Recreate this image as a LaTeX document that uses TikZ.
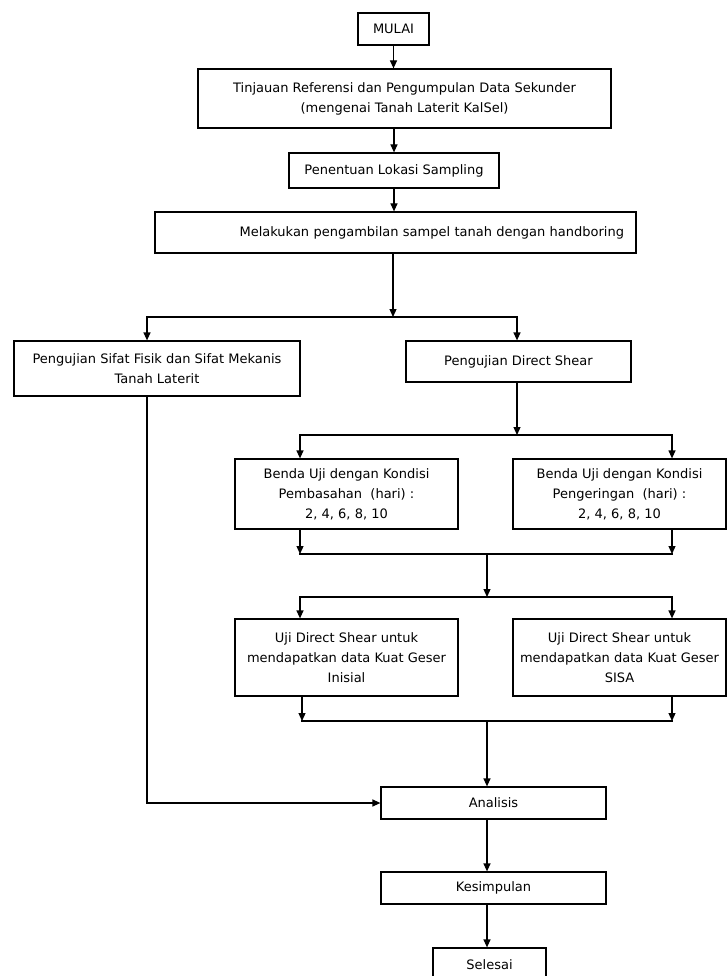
\documentclass[tikz,border=0pt]{standalone}
\usepackage{fontspec}
\setmainfont{DejaVu Sans}
\usetikzlibrary{arrows.meta}

\begin{document}
\begin{tikzpicture}[x=1pt, y=-1pt,
        box/.style={draw, line width=1.2pt, align=center, inner sep=0pt, font=\fontsize{13}{20}\selectfont},
        arr/.style={line width=1.2pt, -{Triangle[length=8pt, width=7pt]}},
        ln/.style={line width=1.2pt, line cap=rect}]
        \useasboundingbox (0,0) rectangle (727,976);

        % Boxes
        \node[box, minimum width=71, minimum height=32] (mulai) at (393.5,29) {MULAI};
        \node[box, minimum width=413, minimum height=59] (tinjauan) at (404.5,98.5) {Tinjauan Referensi dan Pengumpulan Data Sekunder\\(mengenai Tanah Laterit KalSel)};
        \node[box, minimum width=210, minimum height=35] (lokasi) at (394,170.5) {Penentuan Lokasi Sampling};
        \node[box, minimum width=481, minimum height=41, align=right, text width=457] (sampel) at (395.5,232.5) {Melakukan pengambilan sampel tanah dengan handboring};
        \node[box, minimum width=286, minimum height=55] (fisik) at (157,368.5) {Pengujian Sifat Fisik dan Sifat Mekanis\\Tanah Laterit};
        \node[box, minimum width=225, minimum height=41] (shear) at (518.5,361.5) {Pengujian Direct Shear};
        \node[box, minimum width=223, minimum height=70] (basah) at (346.5,494) {Benda Uji dengan Kondisi\\Pembasahan\ \ (hari) :\\2, 4, 6, 8, 10};
        \node[box, minimum width=213, minimum height=70] (kering) at (619.5,494) {Benda Uji dengan Kondisi\\Pengeringan\ \ (hari) :\\2, 4, 6, 8, 10};
        \node[box, minimum width=223, minimum height=77] (inisial) at (346.5,657.5) {Uji Direct Shear untuk\\mendapatkan data Kuat Geser\\Inisial};
        \node[box, minimum width=213, minimum height=77] (sisa) at (619.5,657.5) {Uji Direct Shear untuk\\mendapatkan data Kuat Geser\\SISA};
        \node[box, minimum width=225, minimum height=32] (analisis) at (493.5,803) {Analisis};
        \node[box, minimum width=225, minimum height=32] (simpulan) at (493.5,888) {Kesimpulan};
        \node[box, minimum width=113, minimum height=34] (selesai) at (489.5,965) {Selesai};

        % Branch points
        \coordinate (s1) at (393,317);
        \coordinate (s1l) at (147,317);
        \coordinate (s1r) at (517,317);
        \coordinate (s2) at (517,435);
        \coordinate (s2l) at (300,435);
        \coordinate (s2r) at (672,435);
        \coordinate (j1) at (487,554);
        \coordinate (j1l) at (300,554);
        \coordinate (j1r) at (672,554);
        \coordinate (s3) at (487,597);
        \coordinate (s3l) at (300,597);
        \coordinate (s3r) at (672,597);
        \coordinate (j2) at (487,721);
        \coordinate (j2l) at (302,721);
        \coordinate (j2r) at (672,721);

        % Main line
        \draw[arr] (mulai.south) -- (mulai.south |- tinjauan.north);
        \draw[arr] (lokasi.north |- tinjauan.south) -- (lokasi.north);
        \draw[arr] (lokasi.south) -- (lokasi.south |- sampel.north);
        \draw[arr] (sampel.south -| s1) -- (s1);
        \draw[arr] (s1) -| (s1l |- fisik.north);
        \draw[arr] (s1) -| (s1r |- shear.north);

        % Direct shear branch
        \draw[arr] (shear.south -| s2) -- (s2);
        \draw[arr] (s2) -| (s2l |- basah.north);
        \draw[arr] (s2) -| (s2r |- kering.north);
        \draw[arr] (basah.south -| j1l) -- (j1l);
        \draw[arr] (kering.south -| j1r) -- (j1r);
        \draw[ln] (j1l) -- (j1r);
        \draw[arr] (j1) -- (s3);
        \draw[arr] (s3) -| (s3l |- inisial.north);
        \draw[arr] (s3) -| (s3r |- sisa.north);
        \draw[arr] (inisial.south -| j2l) -- (j2l);
        \draw[arr] (sisa.south -| j2r) -- (j2r);
        \draw[ln] (j2l) -- (j2r);
        \draw[arr] (j2) -- (j2 |- analisis.north);

        % To the end
        \draw[arr] (fisik.south -| s1l) |- (analisis.west);
        \draw[arr] (analisis.south -| j2) -- (j2 |- simpulan.north);
        \draw[arr] (simpulan.south -| j2) -- (j2 |- selesai.north);
    \end{tikzpicture}
\end{document}
